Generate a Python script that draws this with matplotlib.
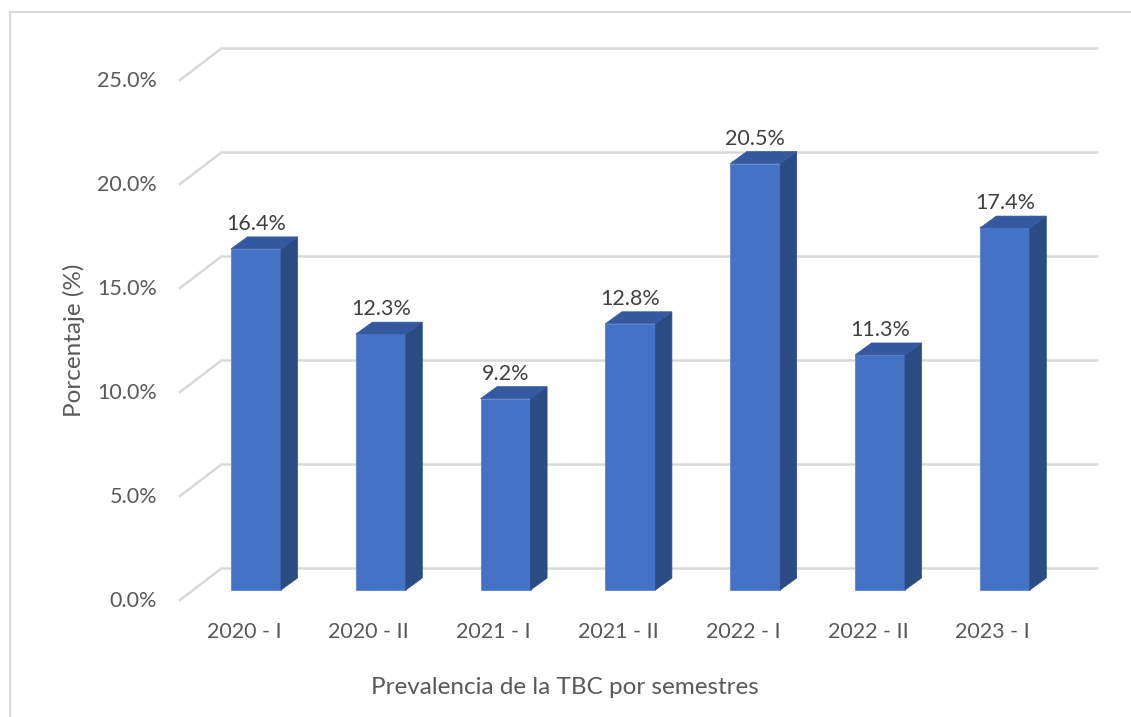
import matplotlib
matplotlib.use("Agg")
import matplotlib.pyplot as plt
from matplotlib.patches import Polygon
from matplotlib.lines import Line2D

categories = ["2020 - I", "2020 - II", "2021 - I", "2021 - II", "2022 - I", "2022 - II", "2023 - I"]
values = [16.4, 12.3, 9.2, 12.8, 20.5, 11.3, 17.4]
yticks = [0, 5, 10, 15, 20, 25]
ytick_labels = ["0.0%", "5.0%", "10.0%", "15.0%", "20.0%", "25.0%"]
xlabel = "Prevalencia de la TBC por semestres"
ylabel = "Porcentaje (%)"

W, H = 1131, 717
plt.rcParams['font.family'] = ['Lato', 'DejaVu Sans']
fig = plt.figure(figsize=(W / 100, H / 100), dpi=100)
ax = fig.add_axes([0, 0, 1, 1])
ax.axis("off")

# pixel mapping (layout): category 0 front center at x=256 px, step 124.8 px;
# value 0 front at y=590 px from top, 20.8 px per percent
X0, DX = 256.0, 124.8
Y0, DY = 590.0, 20.8
ax.set_xlim(-X0 / DX, (W - X0) / DX)
ax.set_ylim((Y0 - H) / DY, Y0 / DY)

def px_x(p):  # pixel offset -> data x units
    return p / DX

def px_y(p):
    return p / DY

text_color = "#595959"
grid_color = "#D9D9D9"
FS = 15.5

# gridlines (back wall) and left-wall diagonals
gx0 = (222 - X0) / DX
gx1 = (1098 - X0) / DX
dxl = (180 - X0) / DX
for v, lab in zip(yticks, ytick_labels):
    yb = v + px_y(22)
    ax.plot([gx0, gx1], [yb, yb], color=grid_color, lw=1.8, zorder=1, solid_capstyle="butt")
    ax.plot([dxl, gx0], [v - px_y(10), yb], color=grid_color, lw=1.8, zorder=1)
    ax.text((157 - X0) / DX, v - px_y(11), lab, ha="right", va="center",
            fontsize=FS, color=text_color)

# bars
half_w = px_x(25)
depth_x = px_x(16.5)
depth_y = px_y(12)
front_c = "#4472C4"
side_c = "#2B4B83"
top_c = "#3459A0"
for i, v in enumerate(values):
    l, r = i - half_w, i + half_w
    front = Polygon([(l, 0), (r, 0), (r, v), (l, v)], closed=True,
                    facecolor=front_c, edgecolor="#5B84CC", lw=0.6, zorder=3)
    side = Polygon([(r, 0), (r + depth_x, depth_y), (r + depth_x, v + depth_y), (r, v)],
                   closed=True, facecolor=side_c, edgecolor=side_c, lw=0.5, zorder=3)
    top = Polygon([(l, v), (r, v), (r + depth_x, v + depth_y), (l + depth_x, v + depth_y)],
                  closed=True, facecolor=top_c, edgecolor=top_c, lw=0.5, zorder=3)
    for p in (front, side, top):
        ax.add_patch(p)
    ax.text(i, v + px_y(25), f"{v:.1f}%", ha="center", va="center",
            fontsize=FS, color="#404040", zorder=4)
    ax.text(i - px_x(12), -px_y(42), categories[i], ha="center", va="center",
            fontsize=FS, color=text_color)

# axis titles
fig.text(565 / W, 1 - 688 / H, xlabel, ha="center", va="center", fontsize=17.5, color=text_color)
fig.text(74 / W, 1 - 340 / H, ylabel, ha="center", va="center", rotation=90,
         fontsize=17.5, color=text_color)

# chart border (left and top visible)
fig.add_artist(Line2D([10 / W, 10 / W], [0, 1 - 12 / H], color=grid_color, lw=1.5))
fig.add_artist(Line2D([10 / W, 1], [1 - 12 / H, 1 - 12 / H], color=grid_color, lw=1.5))

fig.savefig("out.png", dpi=100)
